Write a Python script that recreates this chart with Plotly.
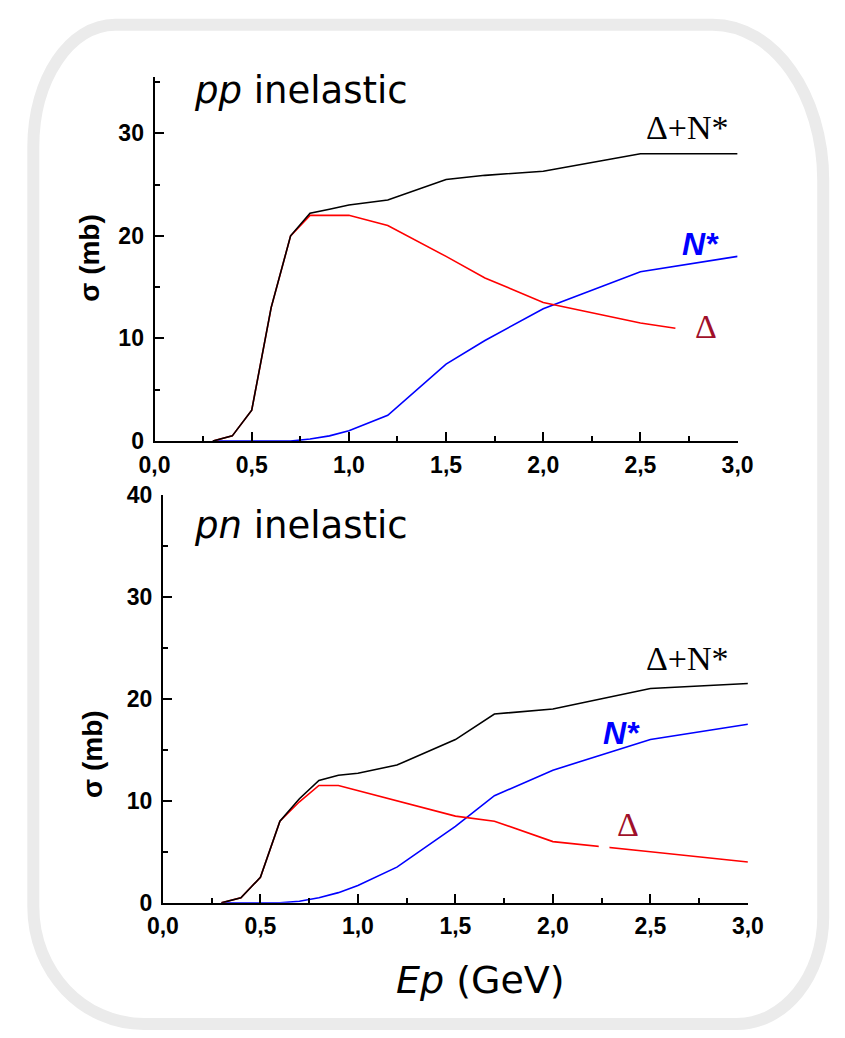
import plotly.graph_objects as go

W, H = 845, 1038

# ---- pp inelastic cross sections (mb) vs proton energy (GeV) ----
pp_sum_x = [0.3, 0.4, 0.5, 0.6, 0.7, 0.8, 0.9, 1.0, 1.2, 1.5, 1.7, 2.0, 2.5, 3.0]
pp_sum_y = [0.0, 0.5, 3.0, 13.0, 20.0, 22.2, 22.6, 23.0, 23.5, 25.5, 25.9, 26.3, 28.0, 28.0]
pp_delta_x = [0.3, 0.4, 0.5, 0.6, 0.7, 0.8, 0.9, 1.0, 1.2, 1.5, 1.7, 2.0, 2.5, 2.68]
pp_delta_y = [0.0, 0.5, 3.0, 13.0, 20.0, 22.0, 22.0, 22.0, 21.0, 18.0, 15.9, 13.5, 11.5, 11.0]
pp_nstar_x = [0.3, 0.7, 0.8, 0.9, 1.0, 1.2, 1.5, 1.7, 2.0, 2.5, 3.0]
pp_nstar_y = [0.0, 0.0, 0.2, 0.5, 1.0, 2.5, 7.5, 9.8, 12.9, 16.5, 18.0]

# ---- pn inelastic cross sections (mb) ----
pn_sum_x = [0.3, 0.4, 0.5, 0.6, 0.7, 0.8, 0.9, 1.0, 1.2, 1.5, 1.7, 2.0, 2.5, 3.0]
pn_sum_y = [0.0, 0.5, 2.5, 8.0, 10.2, 12.0, 12.5, 12.7, 13.5, 16.0, 18.5, 19.0, 21.0, 21.5]
pn_delta_x = [0.3, 0.4, 0.5, 0.6, 0.7, 0.8, 0.9, 1.0, 1.2, 1.5, 1.7, 2.0, 2.5, 3.0]
pn_delta_y = [0.0, 0.5, 2.5, 8.0, 9.9, 11.5, 11.5, 11.0, 10.0, 8.5, 8.0, 6.0, 5.0, 4.0]
pn_nstar_x = [0.3, 0.6, 0.7, 0.8, 0.9, 1.0, 1.2, 1.5, 1.7, 2.0, 2.5, 3.0]
pn_nstar_y = [0.0, 0.0, 0.15, 0.5, 1.0, 1.7, 3.5, 7.5, 10.5, 13.0, 16.0, 17.5]

x_tickvals = [0.0, 0.5, 1.0, 1.5, 2.0, 2.5, 3.0]

BLACK, RED, BLUE, DARKRED = "#000000", "#ff0000", "#0000ff", "#a0102a"

fig = go.Figure()

def add_line(x, y, color, xa, ya):
    fig.add_trace(go.Scatter(x=x, y=y, mode="lines", xaxis=xa, yaxis=ya,
                             line=dict(color=color, width=1.6), showlegend=False,
                             hoverinfo="skip"))

# draw order: N*, then Δ, then the sum on top
add_line(pp_nstar_x, pp_nstar_y, BLUE, "x", "y")
add_line(pp_delta_x, pp_delta_y, RED, "x", "y")
add_line(pp_sum_x, pp_sum_y, BLACK, "x", "y")
add_line(pn_nstar_x, pn_nstar_y, BLUE, "x2", "y2")
add_line(pn_delta_x, pn_delta_y, RED, "x2", "y2")
add_line(pn_sum_x, pn_sum_y, BLACK, "x2", "y2")

def px(v):
    return v / W

def py(v):
    return 1 - v / H

tickfont = dict(family="Liberation Sans, Arial", size=23, color="black", weight="bold")

def xaxis_cfg(x0, x1, anchor):
    return dict(domain=[px(x0), px(x1)], range=[0, 3.0], anchor=anchor,
                showline=True, linewidth=2, linecolor="black", showgrid=False,
                zeroline=False, ticks="inside", ticklen=9, tickwidth=2,
                tickcolor="black", tickvals=x_tickvals, tickformat=".1f",
                tickfont=tickfont, ticklabelstandoff=2,
                minor=dict(dtick=0.25, ticks="inside", ticklen=5, tickwidth=1.5,
                           tickcolor="black", tick0=0))

def yaxis_cfg(y0, y1, rng, anchor):
    return dict(domain=[py(y1), py(y0)], range=rng, anchor=anchor,
                showline=True, linewidth=2, linecolor="black", showgrid=False,
                zeroline=False, ticks="inside", ticklen=9, tickwidth=2,
                tickcolor="black", dtick=10, tick0=0, tickfont=tickfont,
                ticklabelstandoff=4,
                minor=dict(dtick=5, ticks="inside", ticklen=5, tickwidth=1.5,
                           tickcolor="black", tick0=0))

# rounded frame around both panels
L, R, T, B = 18, 839, 12, 1037
k = 0.5523
corners = {"tl": (85, 125), "tr": (115, 160), "br": (90, 110), "bl": (115, 120)}

def P(x, y):
    return f"{px(x):.5f},{py(y):.5f}"

rx, ry = corners["tl"]
path = f"M {P(L, T + ry)} C {P(L, T + ry - k * ry)} {P(L + rx - k * rx, T)} {P(L + rx, T)} "
rx, ry = corners["tr"]
path += f"L {P(R - rx, T)} C {P(R - rx + k * rx, T)} {P(R, T + ry - k * ry)} {P(R, T + ry)} "
rx, ry = corners["br"]
path += f"L {P(R, B - ry)} C {P(R, B - ry + k * ry)} {P(R - rx + k * rx, B)} {P(R - rx, B)} "
rx, ry = corners["bl"]
path += f"L {P(L + rx, B)} C {P(L + rx - k * rx, B)} {P(L, B - ry + k * ry)} {P(L, B - ry)} Z"

shapes = [
    dict(type="path", path=path, xref="paper", yref="paper",
         line=dict(color="#ebebeb", width=12), fillcolor="rgba(0,0,0,0)", layer="below"),
    # small white label backing that interrupts the pn Δ curve
    dict(type="rect", xref="x2", yref="y2", x0=2.235, x1=2.29, y0=4.9, y1=6.0,
         fillcolor="white", line=dict(width=0), layer="above"),
]

def ann(text, x, y, size, color="black", family="DejaVu Sans", angle=0, weight="normal"):
    return dict(text=text, x=px(x), y=py(y), xref="paper", yref="paper",
                xanchor="center", yanchor="middle", showarrow=False,
                textangle=angle,
                font=dict(family=family, size=size, color=color, weight=weight))

serif = "Liberation Serif, Times New Roman"
sans = "Liberation Sans, Arial"
annotations = [
    ann("<i>pp</i> inelastic", 296, 80, 37),
    ann("<i>pn</i> inelastic", 296, 526, 37),
    ann("<i>Ep</i> (GeV)", 483, 992, 38),
    ann("σ (mb)", 77, 251, 28, family=sans, angle=-90, weight="bold"),
    ann("σ (mb)", 80, 760, 28, family=sans, angle=-90, weight="bold"),
    ann("Δ+N*", 698, 117, 34, family=serif),
    ann("<i>N*</i>", 711, 237, 32, color=BLUE, family=sans, weight="bold"),
    ann("Δ", 717, 322, 34, color=DARKRED, family=serif),
    ann("Δ+N*", 698, 662, 34, family=serif),
    ann("<i>N*</i>", 629, 739, 32, color=BLUE, family=sans, weight="bold"),
    ann("Δ", 636, 832, 34, color=DARKRED, family=serif),
]

fig.update_layout(
    width=W, height=H, margin=dict(l=0, r=0, t=0, b=0),
    paper_bgcolor="white", plot_bgcolor="rgba(0,0,0,0)",
    separators=",.",
    xaxis=xaxis_cfg(144, 750, "y"),
    yaxis=yaxis_cfg(65.5, 439, [0, 35.5], "x"),
    xaxis2=xaxis_cfg(152.7, 760.7, "y2"),
    yaxis2=yaxis_cfg(494, 912.7, [0, 40], "x2"),
    shapes=shapes, annotations=annotations,
)

fig.write_html("out.html")
